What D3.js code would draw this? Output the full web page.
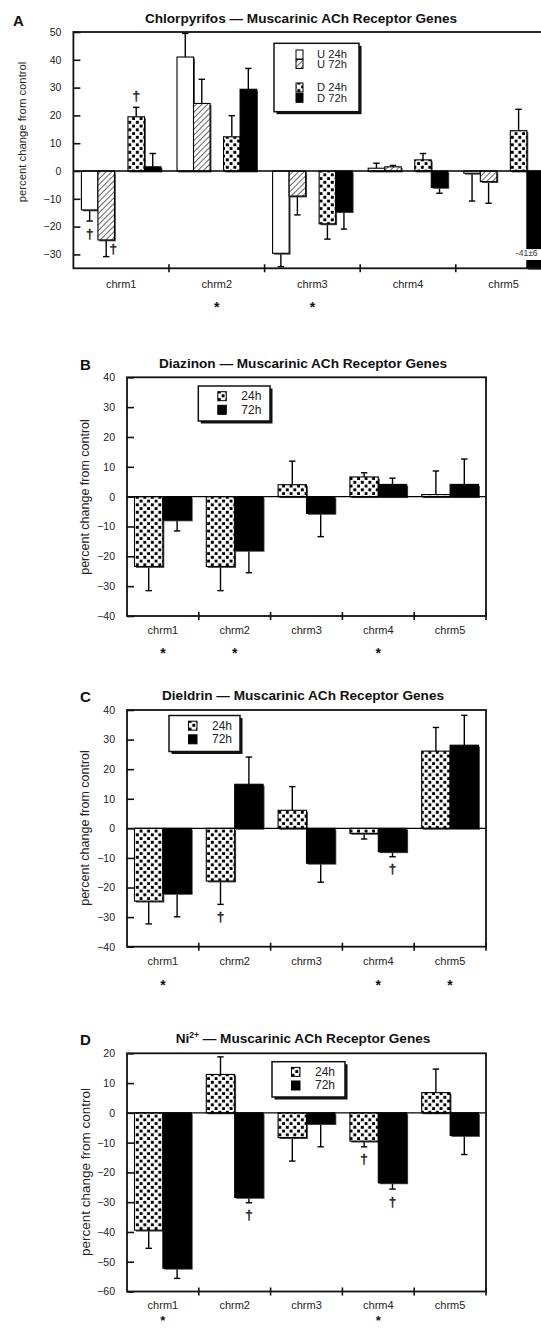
<!DOCTYPE html>
<html>
<head>
<meta charset="utf-8">
<script src="https://cdn.jsdelivr.net/npm/d3@7"></script>
<style>
  body { margin: 0; background: #fff; }
  svg { display: block; font-family: 'Liberation Sans', Arial, Helvetica, sans-serif; }
</style>
</head>
<body>
<div id="chart"></div>
<script>
const categories = ['chrm1', 'chrm2', 'chrm3', 'chrm4', 'chrm5']

// A: Chlorpyrifos, undifferentiated (U) and differentiated (D) cells
const chlorU24 = [-14, 41, -29.6, 1, -0.8]
const chlorU24Err = [4, 8.5, 4.8, 1.8, 10]
const chlorU72 = [-24.8, 24.3, -9, 1.5, -3.8]
const chlorU72Err = [6, 8.7, 6.8, 0.5, 7.8]
const chlorD24 = [19.5, 12.3, -19, 4, 14.5]
const chlorD24Err = [3.4, 7.6, 5.5, 2.3, 7.7]
const chlorD72 = [1.5, 29.4, -14.6, -5.9, -41]
const chlorD72Err = [4.8, 7.5, 6.3, 2.1, 6]
const chlorStars = ['chrm2', 'chrm3']

// B: Diazinon
const diaz24 = [-23.4, -23.4, 4, 6.6, 0.7]
const diaz24Err = [8.1, 8.1, 7.9, 1.4, 7.9]
const diaz72 = [-7.8, -18, -5.6, 4.1, 4.1]
const diaz72Err = [3.7, 7.5, 7.8, 2.1, 8.5]
const diazStars = ['chrm1', 'chrm2', 'chrm4']

// C: Dieldrin
const diel24 = [-24.6, -17.8, 6.1, -1.7, 26.1]
const diel24Err = [7.7, 7.9, 8, 1.9, 8]
const diel72 = [-22, 14.9, -11.8, -7.9, 28.1]
const diel72Err = [7.9, 9.2, 6.4, 1.7, 10.1]
const dielStars = ['chrm1', 'chrm4', 'chrm5']

// D: Ni2+
const nick24 = [-39.4, 12.9, -8.3, -9.5, 6.8]
const nick24Err = [6.1, 5.9, 7.9, 1.9, 7.9]
const nick72 = [-52.2, -28.4, -3.6, -23.5, -7.6]
const nick72Err = [3.4, 1.8, 7.8, 2.1, 6.4]
const nickStars = ['chrm1', 'chrm4']

const W = 541
const H = 1328
const svg = d3.select('#chart').append('svg').attr('width', W).attr('height', H)

// fill patterns
const defs = svg.append('defs')
const dots = defs.append('pattern').attr('id', 'dots')
  .attr('patternUnits', 'userSpaceOnUse').attr('width', 7.5).attr('height', 7.5)
dots.append('rect').attr('width', 7.5).attr('height', 7.5).attr('fill', '#fff')
dots.append('rect').attr('x', 0.8).attr('y', 0.8).attr('width', 3).attr('height', 3).attr('fill', '#000')
dots.append('rect').attr('x', 4.6).attr('y', 4.6).attr('width', 3).attr('height', 3).attr('fill', '#000')

const hatch = defs.append('pattern').attr('id', 'hatch')
  .attr('patternUnits', 'userSpaceOnUse').attr('width', 4).attr('height', 4)
  .attr('patternTransform', 'rotate(45)')
hatch.append('rect').attr('width', 4).attr('height', 4).attr('fill', '#fff')
hatch.append('line').attr('x1', 0).attr('y1', 0).attr('x2', 0).attr('y2', 4)
  .attr('stroke', '#000').attr('stroke-width', 1.2)

const fills = {
  'U 24h': '#fff',
  'U 72h': 'url(#hatch)',
  'D 24h': 'url(#dots)',
  'D 72h': '#000',
  '24h': 'url(#dots)',
  '72h': '#000',
}

function drawPanel({
  letter, title, titleSup, titleX, titleY, letterY,
  left, right, top, bottom, domain, tickValues,
  series, groupPad, groupGap,
  yLabelX, yLabelY, yLabelSize,
  labelY, starY, starSize = 14, stars, daggers = [],
  legend, broken,
}) {
  const g = svg.append('g')
  const y = d3.scaleLinear().domain(domain).range([bottom, top])
  const x = d3.scaleBand().domain(categories).range([left, right])
  const groups = [...new Set(series.map(s => s.group))]
  const times = [...new Set(series.map(s => s.time))]
  const xGroup = d3.scaleBand().domain(groups)
    .range([groupPad, x.bandwidth() - groupPad]).paddingInner(groupGap)
  const xTime = d3.scaleBand().domain(times).range([0, xGroup.bandwidth()])
  const barX = (s, c) => x(c) + xGroup(s.group) + xTime(s.time)
  const bw = xTime.bandwidth()

  const rows = []
  series.forEach(s => {
    categories.forEach((c, i) => {
      rows.push({ s, c, v: s.values[i], e: s.errs[i] })
    })
  })
  const clampV = v => Math.max(domain[0], Math.min(domain[1], v))

  // error bars (one-sided, drawn behind the bars)
  const eb = g.append('g').attr('stroke', '#000').attr('stroke-width', 1.4)
  rows.forEach(d => {
    if (d.v < domain[0]) return
    const cx = barX(d.s, d.c) + bw / 2
    const end = d.v + Math.sign(d.v || 1) * d.e
    eb.append('line').attr('x1', cx).attr('x2', cx)
      .attr('y1', y(d.v)).attr('y2', y(clampV(end)))
    eb.append('line').attr('x1', cx - 3.2).attr('x2', cx + 3.2)
      .attr('y1', y(clampV(end))).attr('y2', y(clampV(end)))
  })

  // bar shadows
  g.append('g').selectAll('rect').data(rows).join('rect')
    .attr('x', d => barX(d.s, d.c) + 1.4)
    .attr('y', d => Math.min(y(0), y(clampV(d.v))) + 1.4)
    .attr('width', bw)
    .attr('height', d => Math.abs(y(clampV(d.v)) - y(0)))
    .attr('fill', '#444')

  g.append('g').selectAll('rect').data(rows).join('rect')
    .attr('x', d => barX(d.s, d.c))
    .attr('y', d => Math.min(y(0), y(clampV(d.v))))
    .attr('width', bw)
    .attr('height', d => Math.abs(y(clampV(d.v)) - y(0)))
    .attr('fill', d => d.s.fill)
    .attr('stroke', '#000').attr('stroke-width', 1.1)

  // broken (off-scale) bar
  if (broken) {
    const s = series.find(t => t.key === broken.key)
    const i = categories.indexOf(broken.cat)
    const bx = barX(s, broken.cat)
    g.append('rect').attr('x', bx - 1).attr('y', y(broken.from))
      .attr('width', bw + 4).attr('height', y(broken.to) - y(broken.from))
      .attr('fill', '#fff')
    g.append('text').attr('x', bx - 11).attr('y', y(broken.to) - 4)
      .attr('font-size', 8.5).attr('fill', '#333')
      .text(`${s.values[i]}±${s.errs[i]}`)
  }

  // daggers
  daggers.forEach(dg => {
    const s = series.find(t => t.key === dg.key)
    const i = categories.indexOf(dg.cat)
    const v = s.values[i]
    const end = y(v + Math.sign(v) * s.errs[i])
    const cx = barX(s, dg.cat) + bw / 2
    let tx = cx
    let ty = v > 0 ? end - 12 : end + 12
    if (dg.beside) {
      tx = cx + 7
      ty = end - 8
    }
    g.append('text').attr('x', tx).attr('y', ty)
      .attr('text-anchor', 'middle').attr('dominant-baseline', 'central')
      .attr('font-size', 13.5).attr('fill', '#222')
      .attr('stroke', '#222').attr('stroke-width', 0.45)
      .text('†')
  })

  // zero line
  g.append('line').attr('x1', left).attr('x2', right)
    .attr('y1', y(0)).attr('y2', y(0)).attr('stroke', '#000').attr('stroke-width', 1.3)

  // frame
  g.append('rect').attr('x', left).attr('y', top)
    .attr('width', right - left).attr('height', bottom - top)
    .attr('fill', 'none').attr('stroke', '#111').attr('stroke-width', 1.8)

  // y axis
  g.append('g').attr('transform', `translate(${left},0)`)
    .call(d3.axisLeft(y).tickValues(tickValues).tickSize(-7).tickPadding(12))
    .call(a => a.select('.domain').remove())
    .call(a => a.selectAll('.tick line').attr('stroke', '#111').attr('stroke-width', 1.6))
    .call(a => a.selectAll('.tick text').attr('font-size', 10.5).attr('fill', '#222')
      .attr('font-family', null))

  // x ticks at category boundaries
  const bounds = categories.map(c => x(c)).concat([x(categories[4]) + x.bandwidth()])
  g.append('g').selectAll('line').data(bounds.slice(1)).join('line')
    .attr('x1', d => d).attr('x2', d => d)
    .attr('y1', bottom - 4).attr('y2', bottom + 4)
    .attr('stroke', '#111').attr('stroke-width', 1.6)

  g.append('g').selectAll('text').data(categories).join('text')
    .attr('x', c => x(c) + x.bandwidth() / 2).attr('y', labelY)
    .attr('text-anchor', 'middle').attr('font-size', 11).attr('fill', '#222')
    .text(c => c)

  g.append('g').selectAll('text').data(stars).join('text')
    .attr('x', c => x(c) + x.bandwidth() / 2).attr('y', starY)
    .attr('text-anchor', 'middle').attr('font-size', starSize).attr('font-weight', 'bold')
    .attr('fill', '#111')
    .text('*')

  // y label
  g.append('text')
    .attr('transform', `translate(${yLabelX},${yLabelY}) rotate(-90)`)
    .attr('text-anchor', 'middle').attr('dominant-baseline', 'central')
    .attr('font-size', yLabelSize).attr('fill', '#222')
    .text('percent change from control')

  // title and panel letter
  const t = g.append('text').attr('x', titleX).attr('y', titleY)
    .attr('text-anchor', 'middle').attr('font-weight', 'bold')
    .attr('font-size', 13.6).attr('fill', '#111')
  t.append('tspan').text(title)
  if (titleSup) {
    t.append('tspan').attr('font-size', 8.5).attr('dy', -5).text(titleSup)
    t.append('tspan').attr('dy', 5).text(' — Muscarinic ACh Receptor Genes')
  } else {
    t.append('tspan').text(' — Muscarinic ACh Receptor Genes')
  }
  g.append('text').attr('x', letter.x).attr('y', letterY)
    .attr('font-weight', 'bold').attr('font-size', 15).attr('fill', '#111')
    .text(letter.t)

  // legend
  const lg = g.append('g').attr('transform', `translate(${legend.x},${legend.y})`)
  lg.append('rect').attr('x', 2.5).attr('y', 2.5)
    .attr('width', legend.w).attr('height', legend.h).attr('fill', '#111')
  lg.append('rect').attr('width', legend.w).attr('height', legend.h)
    .attr('fill', '#fff').attr('stroke', '#111').attr('stroke-width', 1.5)
  series.forEach((s, i) => {
    const ry = legend.rows[i]
    lg.append('rect').attr('x', legend.sx).attr('y', ry)
      .attr('width', legend.sw).attr('height', 9)
      .attr('fill', s.fill).attr('stroke', '#000').attr('stroke-width', 1)
    lg.append('text').attr('x', legend.tx).attr('y', ry + 4.5)
      .attr('dominant-baseline', 'central')
      .attr('font-size', legend.fs).attr('fill', '#222').text(s.key)
  })
}

function pairSeries(v24, e24, v72, e72) {
  return [
    { key: '24h', group: '', time: '24h', fill: fills['24h'], values: v24, errs: e24 },
    { key: '72h', group: '', time: '72h', fill: fills['72h'], values: v72, errs: e72 },
  ]
}

const legendPair = { sx: 19.5, sw: 8.5, rows: [5.7, 19.3], tx: 43, fs: 12 }

drawPanel({
  letter: { t: 'A', x: 13 }, letterY: 26,
  title: 'Chlorpyrifos', titleX: 301, titleY: 23,
  left: 73.4, right: 551.4, top: 32, bottom: 268.3,
  domain: [-35, 50], tickValues: d3.range(-30, 51, 10),
  series: [
    { key: 'U 24h', group: 'U', time: '24h', fill: fills['U 24h'], values: chlorU24, errs: chlorU24Err },
    { key: 'U 72h', group: 'U', time: '72h', fill: fills['U 72h'], values: chlorU72, errs: chlorU72Err },
    { key: 'D 24h', group: 'D', time: '24h', fill: fills['D 24h'], values: chlorD24, errs: chlorD24Err },
    { key: 'D 72h', group: 'D', time: '72h', fill: fills['D 72h'], values: chlorD72, errs: chlorD72Err },
  ],
  groupPad: 8, groupGap: 0.29,
  yLabelX: 22, yLabelY: 132, yLabelSize: 11.3,
  labelY: 288, starY: 312, stars: chlorStars,
  daggers: [
    { cat: 'chrm1', key: 'D 24h' },
    { cat: 'chrm1', key: 'U 24h' },
    { cat: 'chrm1', key: 'U 72h', beside: true },
  ],
  legend: { x: 274, y: 43.3, w: 85, h: 68.4, sx: 22, sw: 7, rows: [6.7, 16.2, 39.7, 50], tx: 43, fs: 11.2 },
  broken: { cat: 'chrm5', key: 'D 72h', from: -28.1, to: -32 },
})

drawPanel({
  letter: { t: 'B', x: 80 }, letterY: 370,
  title: 'Diazinon', titleX: 303, titleY: 368,
  left: 127, right: 486, top: 377.3, bottom: 616,
  domain: [-40, 40], tickValues: d3.range(-40, 41, 10),
  series: pairSeries(diaz24, diaz24Err, diaz72, diaz72Err),
  groupPad: 7.5, groupGap: 0,
  yLabelX: 85, yLabelY: 497, yLabelSize: 12.5,
  labelY: 634, starY: 658, stars: diazStars,
  legend: { x: 198.3, y: 386, w: 71.7, h: 35, ...legendPair },
})

drawPanel({
  letter: { t: 'C', x: 80 }, letterY: 702,
  title: 'Dieldrin', titleX: 303, titleY: 700,
  left: 127, right: 486, top: 710, bottom: 946.7,
  domain: [-40, 40], tickValues: d3.range(-40, 41, 10),
  series: pairSeries(diel24, diel24Err, diel72, diel72Err),
  groupPad: 7.5, groupGap: 0,
  yLabelX: 85, yLabelY: 828, yLabelSize: 12.5,
  labelY: 965, starY: 990, stars: dielStars,
  daggers: [{ cat: 'chrm2', key: '24h' }, { cat: 'chrm4', key: '72h' }],
  legend: { x: 169, y: 715.5, w: 71, h: 36, ...legendPair },
})

drawPanel({
  letter: { t: 'D', x: 80 }, letterY: 1045,
  title: 'Ni', titleSup: '2+', titleX: 303, titleY: 1043,
  left: 127, right: 486, top: 1053.3, bottom: 1291.5,
  domain: [-60, 20], tickValues: d3.range(-60, 21, 10),
  series: pairSeries(nick24, nick24Err, nick72, nick72Err),
  groupPad: 7.5, groupGap: 0,
  yLabelX: 85, yLabelY: 1172, yLabelSize: 13.5,
  labelY: 1309, starY: 1324.5, starSize: 13, stars: nickStars,
  daggers: [{ cat: 'chrm2', key: '72h' }, { cat: 'chrm4', key: '24h' }, { cat: 'chrm4', key: '72h' }],
  legend: { x: 272, y: 1061.7, w: 73, h: 35.3, ...legendPair },
})
</script>
</body>
</html>
